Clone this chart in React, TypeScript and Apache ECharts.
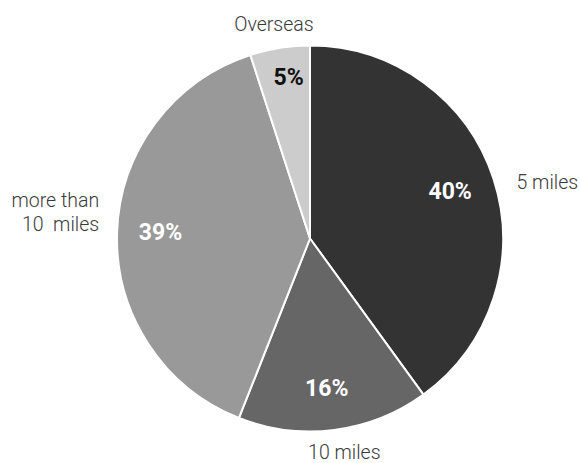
import React, { useEffect, useRef } from "react";
import * as echarts from "echarts";

const categories = ["5 miles", "10 miles", "more than 10 miles", "Overseas"];
const values = [40, 16, 39, 5];
const sliceColors = ["#333333", "#666666", "#999999", "#cccccc"];
const pctColors = ["#ffffff", "#ffffff", "#ffffff", "#111111"];
// label nudges [dx, dy] applied through labelLayout
const outerNudge = [[30, 11], [7, -2], [-41, -19], [-2, 1]];
const innerNudge = [[-2, -1], [-2, 2], [0, -1], [2, -13]];

const thinFont = "Roboto, 'Noto Sans', sans-serif";

export default function App() {
  const ref = useRef<HTMLDivElement>(null);
  useEffect(() => {
    document.body.style.margin = "0";
    const chart = echarts.init(ref.current!, null, { renderer: "svg" });
    const center = [310, 238.5];
    const base = categories.map((name, i) => ({ name, value: values[i] }));
    const textStyle = {
      color: "#3a3a3a",
      fontFamily: thinFont,
      fontWeight: 300,
      fontSize: 19.5,
      lineHeight: 24,
    };
    chart.setOption({
      animation: false,
      series: [
        {
          type: "pie",
          center,
          radius: 193,
          startAngle: 90,
          clockwise: true,
          silent: true,
          label: { show: false },
          labelLine: { show: false },
          itemStyle: { borderColor: "#ffffff", borderWidth: 2 },
          data: base.map((d, i) => ({ ...d, itemStyle: { color: sliceColors[i] } })),
        },
        {
          type: "pie",
          center,
          radius: [100, 193],
          startAngle: 90,
          clockwise: true,
          silent: true,
          itemStyle: { color: "transparent" },
          labelLine: { show: false },
          labelLayout: (p: any) => ({
            dx: innerNudge[p.dataIndex][0],
            dy: innerNudge[p.dataIndex][1],
            hideOverlap: false,
          }),
          data: base.map((d, i) => ({
            ...d,
            label: {
              show: true,
              position: "inside",
              formatter: (p: any) => Math.round(p.percent) + "%",
              color: pctColors[i],
              fontFamily: "Roboto, 'DejaVu Sans Condensed', sans-serif",
              fontWeight: "bold",
              fontSize: 23,
            },
          })),
        },
        {
          type: "pie",
          center,
          radius: [200, 230],
          startAngle: 90,
          clockwise: true,
          silent: true,
          itemStyle: { color: "transparent" },
          labelLine: { show: false },
          labelLayout: (p: any) => ({
            dx: outerNudge[p.dataIndex][0],
            dy: outerNudge[p.dataIndex][1],
            hideOverlap: false,
          }),
          data: base.map((d) => ({
            ...d,
            label: {
              show: true,
              position: "inside",
              formatter: (p: any) =>
                p.name === "more than 10 miles" ? "{r|more than}\n{r|10  miles}" : "{c|" + p.name + "}",
              ...textStyle,
              rich: {
                r: { ...textStyle, width: 96, align: "right" },
                c: { ...textStyle },
              },
            },
          })),
        },
      ],
    });
    return () => chart.dispose();
  }, []);
  return <div ref={ref} style={{ position: "absolute", left: 0, top: 0, width: 580, height: 463 }} />;
}
